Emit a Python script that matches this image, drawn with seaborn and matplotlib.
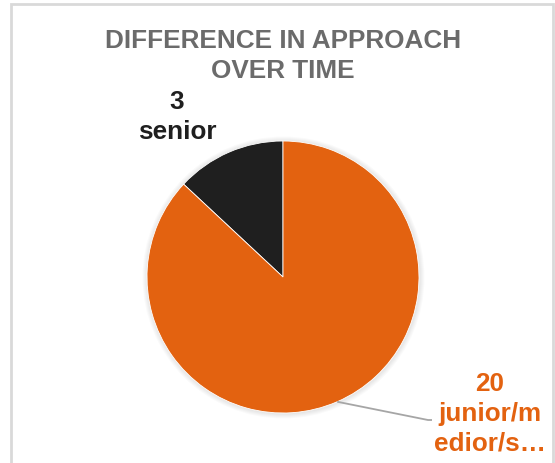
import numpy as np
import matplotlib
matplotlib.use("Agg")
import matplotlib.pyplot as plt
import matplotlib.patches as mpatches
import seaborn as sns

# data
labels = ["senior", "junior/medior/s\u2026"]
values = [3, 20]
label_lines = ["3\nsenior", "20\njunior/m\nedior/s\u2026"]
colors = ["#1F1F1F", "#E36210"]

sns.set_theme(style="white")
plt.rcParams["font.family"] = ["Liberation Sans", "DejaVu Sans"]

W, H = 555, 463
fig = plt.figure(figsize=(W / 100, H / 100), dpi=100)
ax = fig.add_axes([0, 0, 1, 1])

# chart frame (bottom edge is cut off in the reference)
frame = mpatches.Rectangle((11 / W, -0.05), 542 / W, 1.05 - 4 / H,
                           transform=fig.transFigure, fill=False,
                           edgecolor="#D9D9D9", linewidth=2)
fig.patches.append(frame)

cx, cy, r = 283, 186, 136

# soft halo, like the Excel shadow
for i in range(5):
    ax.add_patch(mpatches.Circle((cx + 0.5, cy - 0.5), r + 1 + i * 1.0,
                                 color="black", alpha=0.018, lw=0, zorder=0))

wedges, _ = ax.pie(values, colors=colors, startangle=90, counterclock=True,
                   center=(cx, cy), radius=r,
                   wedgeprops=dict(edgecolor="white", linewidth=0.6))
ax.set_xlim(0, W)
ax.set_ylim(0, H)
ax.axis("off")

ax.text(cx, 407, "DIFFERENCE IN APPROACH\nOVER TIME", ha="center", va="center",
        fontsize=18.8, fontweight="bold", color="#6B6B6B", linespacing=1.28)

# senior label, placed above-left of its slice
ax.text(177, H - 117, label_lines[0], ha="center", va="center",
        fontsize=18.8, fontweight="bold", color="#1F1F1F", linespacing=1.3)

# big slice label with leader line from the slice midpoint
w = wedges[1]
mid = np.deg2rad((w.theta1 + w.theta2) / 2)
px, py = cx + r * np.cos(mid), cy + r * np.sin(mid)
ax.plot([px, 428, 432], [py, H - 420, H - 420], color="#A6A6A6", lw=1.3,
        solid_capstyle="butt")
ax.text(490, H - 414, label_lines[1], ha="center", va="center",
        fontsize=18.8, fontweight="bold", color=colors[1], linespacing=1.3)

fig.savefig("out.png", dpi=100, facecolor="white")
